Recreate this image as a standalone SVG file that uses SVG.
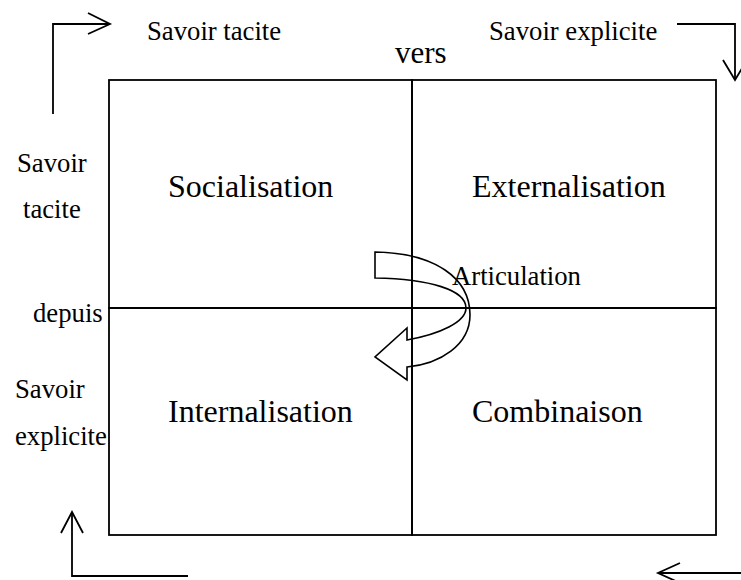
<svg xmlns="http://www.w3.org/2000/svg" width="741" height="580" viewBox="0 0 741 580">
  <style>
    .cell { fill: none; stroke: #000; stroke-width: 1.8; }
    text { font-family: 'Liberation Serif', 'Times New Roman', Times, 'DejaVu Serif', serif; fill: #000; }
    .big { font-size: 32px; }
    .small { font-size: 26.7px; }
    .line { fill: none; stroke: #000; stroke-width: 1.8; stroke-linejoin: miter; }
    .curve { fill: none; stroke: #000; stroke-width: 1.6; stroke-linejoin: miter; }
  </style>
  <rect width="741" height="580" fill="#fff"/>

  <!-- Four quadrants of the matrix -->
  <g id="socialisation">
    <rect class="cell" x="109" y="80" width="303" height="228"/>
    <text class="big" x="168" y="197" font-family="Liberation Serif, serif">Socialisation</text>
  </g>
  <g id="externalisation">
    <rect class="cell" x="412" y="80" width="304" height="228"/>
    <text class="big" x="472" y="197" font-family="Liberation Serif, serif">Externalisation</text>
  </g>
  <g id="internalisation">
    <rect class="cell" x="109" y="308" width="303" height="227"/>
    <text class="big" x="168" y="422" font-family="Liberation Serif, serif">Internalisation</text>
  </g>
  <g id="combinaison">
    <rect class="cell" x="412" y="308" width="304" height="227"/>
    <text class="big" x="472" y="422" font-family="Liberation Serif, serif">Combinaison</text>
  </g>

  <!-- Axis labels -->
  <g id="axis-labels" font-family="Liberation Serif, serif">
    <text class="small" x="147" y="40">Savoir tacite</text>
    <text class="small" x="489" y="40">Savoir explicite</text>
    <text x="395" y="63" font-size="31">vers</text>
    <text class="small" x="17" y="172">Savoir</text>
    <text class="small" x="23" y="218">tacite</text>
    <text class="small" x="33" y="322">depuis</text>
    <text class="small" x="15" y="398">Savoir</text>
    <text class="small" x="15" y="445">explicite</text>
  </g>

  <!-- Cycle arrows around the matrix and the articulation arrow -->
  <g id="connectors">
    <polyline class="line" points="53,114 53,24 110,24"/>
    <polyline class="line" points="88,13 110,24 88,34"/>

    <polyline class="line" points="677,24 735,24 735,80"/>
    <polyline class="line" points="723,60 735,80 747,60"/>

    <polyline class="line" points="741,573 658,573"/>
    <polyline class="line" points="680,563 658,573 680,583"/>

    <polyline class="line" points="188,576 72,576 72,512"/>
    <polyline class="line" points="61,533 72,512 83,533"/>

    <path class="curve" d="M375,252 C435,253 470,278 470,315 C470,345 440,364 407,367 L407,380 L375,357 L407,328 L407,340 C440,334 466,322 466,308 C466,290 430,279 375,278 Z"/>
  </g>

  <g id="articulation">
    <text class="small" x="452" y="285" font-family="Liberation Serif, serif">Articulation</text>
  </g>
</svg>
